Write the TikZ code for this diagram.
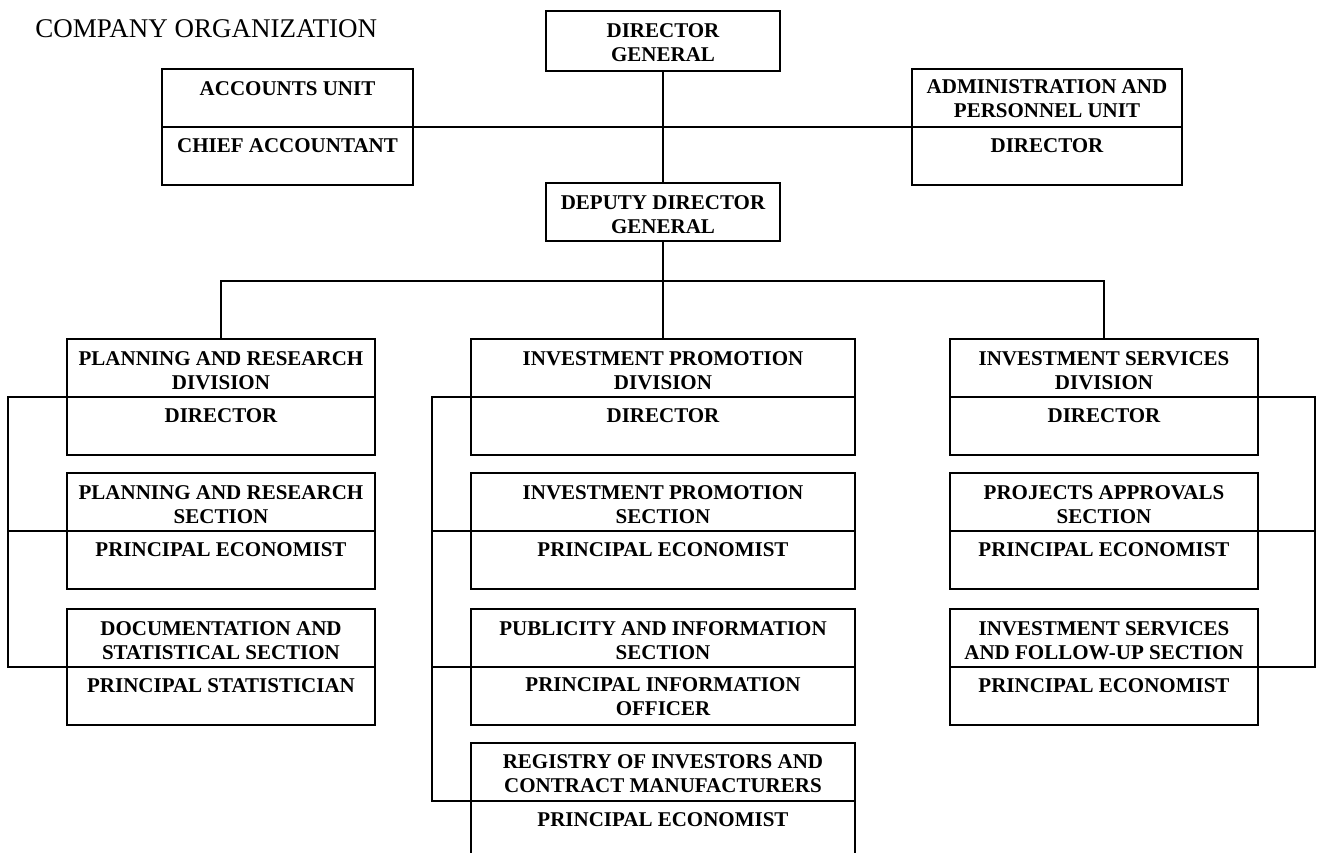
\documentclass[tikz,border=0pt]{standalone}
\usepackage{fontspec}
\setmainfont{Liberation Serif}
\usetikzlibrary{positioning}

\begin{document}
\begin{tikzpicture}[x=1pt,y=-1pt,line width=2.6pt,
  part/.style 2 args={draw,inner sep=0pt,outer sep=0pt,anchor=north west,minimum width=#1,minimum height=#2},
  txt/.style={inner sep=0pt,align=center,font=\fontsize{21}{24}\selectfont\bfseries}]
\useasboundingbox (0,0) rectangle (1317,852);
\clip (0,0) rectangle (1317,852);
\node[anchor=base west,inner sep=0pt,font=\fontsize{27}{32}\selectfont] (title) at (34,37) {COMPANY ORGANIZATION};

% top of the chart
\node[part={234}{60}] (dg) at (546,11) {};
\node[txt,below=11pt of dg.north] (dg-t) {DIRECTOR\\GENERAL};
\node[part={234}{58}] (ddg) at (546,183) {};
\node[txt,below=11pt of ddg.north] (ddg-t) {DEPUTY DIRECTOR\\GENERAL};
\node[part={251}{58}] (acc) at (162,69) {};
\node[part={251}{58}] (acc-r) at (acc.south west) {};
\node[txt,below=11pt of acc.north] (acc-t) {ACCOUNTS UNIT};
\node[txt,below=10pt of acc-r.north] (acc-rt) {CHIEF ACCOUNTANT};
\node[part={270}{58}] (adm) at (912,69) {};
\node[part={270}{58}] (adm-r) at (adm.south west) {};
\node[txt,below=9pt of adm.north] (adm-t) {ADMINISTRATION AND\\PERSONNEL UNIT};
\node[txt,below=10pt of adm-r.north] (adm-rt) {DIRECTOR};

% planning and research
\node[part={308}{58}] (prd) at (67,339) {};
\node[part={308}{58}] (prd-r) at (prd.south west) {};
\node[txt,below=11pt of prd.north] (prd-t) {PLANNING AND RESEARCH\\DIVISION};
\node[txt,below=10pt of prd-r.north] (prd-rt) {DIRECTOR};
\node[part={308}{58}] (prs) at (67,473) {};
\node[part={308}{58}] (prs-r) at (prs.south west) {};
\node[txt,below=11pt of prs.north] (prs-t) {PLANNING AND RESEARCH\\SECTION};
\node[txt,below=10pt of prs-r.north] (prs-rt) {PRINCIPAL ECONOMIST};
\node[part={308}{58}] (dss) at (67,609) {};
\node[part={308}{58}] (dss-r) at (dss.south west) {};
\node[txt,below=11pt of dss.north] (dss-t) {DOCUMENTATION AND\\STATISTICAL SECTION};
\node[txt,below=10pt of dss-r.north] (dss-rt) {PRINCIPAL STATISTICIAN};

% investment promotion
\node[part={384}{58}] (ipd) at (471,339) {};
\node[part={384}{58}] (ipd-r) at (ipd.south west) {};
\node[txt,below=11pt of ipd.north] (ipd-t) {INVESTMENT PROMOTION\\DIVISION};
\node[txt,below=10pt of ipd-r.north] (ipd-rt) {DIRECTOR};
\node[part={384}{58}] (ips) at (471,473) {};
\node[part={384}{58}] (ips-r) at (ips.south west) {};
\node[txt,below=11pt of ips.north] (ips-t) {INVESTMENT PROMOTION\\SECTION};
\node[txt,below=10pt of ips-r.north] (ips-rt) {PRINCIPAL ECONOMIST};
\node[part={384}{58}] (pis) at (471,609) {};
\node[part={384}{58}] (pis-r) at (pis.south west) {};
\node[txt,below=11pt of pis.north] (pis-t) {PUBLICITY AND INFORMATION\\SECTION};
\node[txt,below=9pt of pis-r.north] (pis-rt) {PRINCIPAL INFORMATION\\OFFICER};
\node[part={384}{58}] (rei) at (471,743) {};
\node[part={384}{80}] (rei-r) at (rei.south west) {};
\node[txt,below=10pt of rei.north] (rei-t) {REGISTRY OF INVESTORS AND\\CONTRACT MANUFACTURERS};
\node[txt,below=10pt of rei-r.north] (rei-rt) {PRINCIPAL ECONOMIST};

% investment services
\node[part={308}{58}] (isd) at (950,339) {};
\node[part={308}{58}] (isd-r) at (isd.south west) {};
\node[txt,below=11pt of isd.north] (isd-t) {INVESTMENT SERVICES\\DIVISION};
\node[txt,below=10pt of isd-r.north] (isd-rt) {DIRECTOR};
\node[part={308}{58}] (pas) at (950,473) {};
\node[part={308}{58}] (pas-r) at (pas.south west) {};
\node[txt,below=11pt of pas.north] (pas-t) {PROJECTS APPROVALS\\SECTION};
\node[txt,below=10pt of pas-r.north] (pas-rt) {PRINCIPAL ECONOMIST};
\node[part={308}{58}] (isf) at (950,609) {};
\node[part={308}{58}] (isf-r) at (isf.south west) {};
\node[txt,below=11pt of isf.north] (isf-t) {INVESTMENT SERVICES\\AND FOLLOW-UP SECTION};
\node[txt,below=10pt of isf-r.north] (isf-rt) {PRINCIPAL ECONOMIST};

% lines
\coordinate (bus) at (663,281);
\draw (dg.south) -- (ddg.north);
\draw (acc-r.north east) -- (adm-r.north west);
\draw (ddg.south) -- (ipd.north);
\draw (prd.north) |- (bus) -| (isd.north);
\coordinate (lb) at (8,531);
\draw (prd-r.north west) -| (lb) |- (dss-r.north west);
\draw (lb) -- (prs-r.north west);
\coordinate (mb1) at (432,531);
\coordinate (mb2) at (432,667);
\draw (ipd-r.north west) -| (mb1) -- (mb2) |- (rei-r.north west);
\draw (mb1) -- (ips-r.north west);
\draw (mb2) -- (pis-r.north west);
\coordinate (rb) at (1315,531);
\draw (isd-r.north east) -| (rb) |- (isf-r.north east);
\draw (rb) -- (pas-r.north east);
\end{tikzpicture}
\end{document}
